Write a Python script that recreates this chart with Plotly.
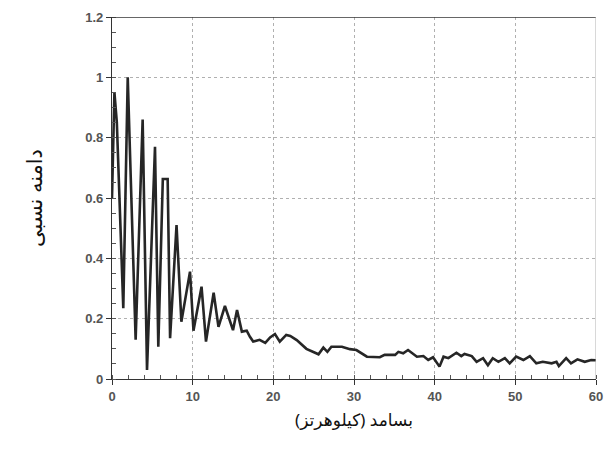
import plotly.graph_objects as go

# Frequency (kHz) and relative amplitude of the measured spectrum
freq_khz = [
    0.0, 0.3, 0.6, 1.4, 1.95, 2.93, 3.8, 4.34, 5.33, 5.74, 6.3, 6.9, 7.2,
    8.0, 8.6, 9.67, 10.1, 11.1, 11.65, 12.6, 13.2, 14.0, 15.0, 15.5, 16.1,
    16.7, 17.1, 17.5, 18.3, 19.0, 19.6, 20.2, 20.8, 21.6, 22.1, 22.9, 24.1,
    25.6, 26.2, 26.7, 27.2, 28.5, 29.5, 30.3, 31.6, 33.2, 33.8, 35.1, 35.5,
    36.1, 36.7, 37.8, 38.6, 39.2, 39.8, 40.6, 41.1, 41.7, 42.7, 43.3, 43.7,
    44.6, 45.2, 46.0, 46.6, 47.2, 47.9, 48.7, 49.3, 50.1, 51.0, 51.8, 52.6,
    53.4, 54.5, 55.1, 55.4, 56.3, 56.9, 57.7, 58.6, 59.4, 60.0,
]
rel_amplitude = [
    0.60, 0.95, 0.85, 0.235, 1.00, 0.13, 0.86, 0.03, 0.77, 0.107, 0.663, 0.663,
    0.135, 0.51, 0.19, 0.356, 0.16, 0.306, 0.124, 0.286, 0.173, 0.242, 0.162,
    0.229, 0.157, 0.16, 0.14, 0.124, 0.13, 0.12, 0.138, 0.149, 0.124, 0.146,
    0.143, 0.129, 0.10, 0.082, 0.104, 0.09, 0.107, 0.107, 0.099, 0.096, 0.074,
    0.072, 0.08, 0.08, 0.09, 0.085, 0.096, 0.074, 0.076, 0.063, 0.072, 0.041,
    0.074, 0.069, 0.087, 0.076, 0.083, 0.076, 0.057, 0.069, 0.046, 0.069,
    0.057, 0.069, 0.052, 0.074, 0.063, 0.076, 0.052, 0.057, 0.052, 0.057,
    0.043, 0.069, 0.052, 0.065, 0.057, 0.063, 0.062,
]

x_ticks = [0, 10, 20, 30, 40, 50, 60]
y_ticks = [0, 0.2, 0.4, 0.6, 0.8, 1.0, 1.2]
y_tick_text = ["0", "0.2", "0.4", "0.6", "0.8", "1", "1.2"]

x_title = "بسامد (کیلوهرتز)"
y_title = "دامنه نسبی"

fig = go.Figure()
fig.add_trace(go.Scatter(
    x=freq_khz, y=rel_amplitude, mode="lines",
    line=dict(color="#262626", width=2.6),
    showlegend=False, hoverinfo="skip",
))

tick_font = dict(family="Liberation Sans, Arial, sans-serif", size=13,
                 color="#555555", weight="bold")

fig.update_xaxes(
    range=[0, 60], tickvals=x_ticks, ticktext=[str(v) for v in x_ticks],
    showline=True, linecolor="#333", linewidth=1.2, mirror=False,
    ticks="outside", ticklen=5, tickcolor="#333", tickwidth=1.2,
    showgrid=True, gridcolor="#b0b0b0", griddash="dot", gridwidth=1,
    minor=dict(dtick=2, ticks="inside", ticklen=4, tickcolor="#555", showgrid=False),
    tickfont=tick_font, zeroline=False, automargin=False,
    title=dict(text=x_title, font=dict(family="Noto Sans, DejaVu Sans, sans-serif",
                                        size=17, color="#111"), standoff=11),
)
fig.update_yaxes(
    range=[0, 1.2], tickvals=y_ticks, ticktext=y_tick_text,
    showline=True, linecolor="#333", linewidth=1.2, mirror=False,
    ticks="outside", ticklen=5, tickcolor="#333", tickwidth=1.2,
    showgrid=True, gridcolor="#b0b0b0", griddash="dot", gridwidth=1,
    minor=dict(dtick=0.05, ticks="inside", ticklen=4, tickcolor="#555", showgrid=False),
    tickfont=tick_font, zeroline=False, automargin=False,
    title=dict(text=y_title, font=dict(family="Noto Sans, DejaVu Sans, sans-serif",
                                        size=21, color="#111"), standoff=36),
)

# Frame: dark top edge at 1.2, faint right edge at 60
fig.add_shape(type="line", xref="x", yref="y", x0=0, x1=60, y0=1.2, y1=1.2,
              line=dict(color="#333", width=1.4))
fig.add_shape(type="line", xref="x", yref="y", x0=60, x1=60, y0=0, y1=1.2,
              line=dict(color="#b0b0b0", width=1))

fig.update_layout(
    width=605, height=453,
    margin=dict(l=112, r=9, t=17, b=74),
    paper_bgcolor="white", plot_bgcolor="white",
)

fig.write_html("out.html")
